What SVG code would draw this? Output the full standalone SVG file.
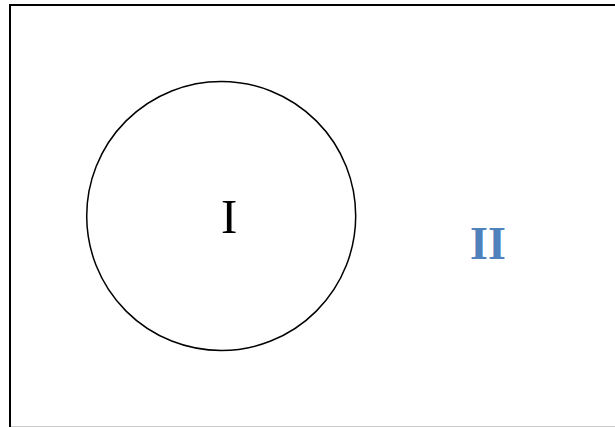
<svg xmlns="http://www.w3.org/2000/svg" width="615" height="427" viewBox="0 0 615 427">
<style>
.frame{fill:#fff;stroke:#000;stroke-width:2}
.circ{fill:none;stroke:#000;stroke-width:1.5}
.lab{font-family:"Liberation Serif","Times New Roman",serif;text-anchor:middle}
</style>
<rect x="0" y="0" width="615" height="427" fill="#fff"/>
<g id="frame"><rect class="frame" x="10" y="5" width="620" height="422.8"/></g>
<g id="set-I">
<circle class="circ" cx="221.2" cy="216" r="134.5"/>
<text class="lab" x="229.2" y="233" font-size="49">I</text>
</g>
<g id="region-II">
<text class="lab" x="488" y="258.5" font-size="46" font-weight="bold" fill="#4F81BD">II</text>
</g>
<g id="connectors"/>
</svg>
